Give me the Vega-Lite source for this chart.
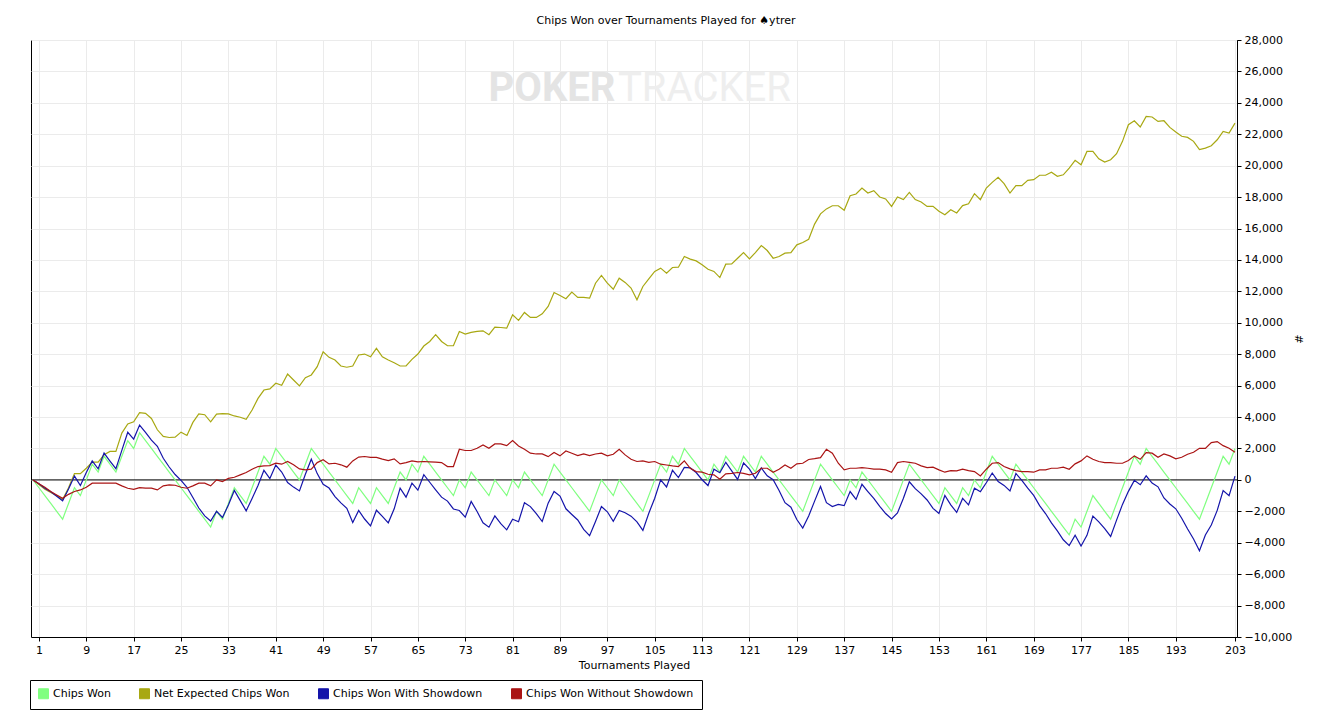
{
  "$schema": "https://vega.github.io/schema/vega-lite/v6.json",
  "width": 1206,
  "height": 597,
  "autosize": {"type": "none"},
  "padding": {"left": 31, "top": 40, "right": 94, "bottom": 91},
  "background": "white",
  "title": {"text": "Chips Won over Tournaments Played for ♠ytrer", "font": "DejaVu Sans", "fontSize": 11, "fontWeight": "normal", "color": "black", "anchor": "middle", "dx": 32, "offset": 8},
  "config": {
    "view": {"stroke": "black", "strokeWidth": 1},
    "axis": {"domainColor": "black", "tickColor": "black", "labelColor": "black", "titleColor": "black", "labelFont": "DejaVu Sans", "labelFontSize": 11, "titleFont": "DejaVu Sans", "titleFontSize": 11, "titleFontWeight": "normal", "gridColor": "#ebebeb", "gridWidth": 1, "tickSize": 4, "labelPadding": 3}
  },
  "encoding": {
    "x": {"field": "t", "type": "quantitative", "scale": {"domain": [-0.34, 203.34], "nice": false, "zero": false},
      "axis": {"values": [1,9,17,25,33,41,49,57,65,73,81,89,97,105,113,121,129,137,145,153,161,169,177,185,193,203], "title": "Tournaments Played", "titlePadding": 4, "labelFlush": false, "grid": true}},
    "y": {"field": "v", "type": "quantitative", "scale": {"domain": [-10000, 28000], "nice": false, "zero": false},
      "axis": {"orient": "right", "values": [-10000,-8000,-6000,-4000,-2000,0,2000,4000,6000,8000,10000,12000,14000,16000,18000,20000,22000,24000,26000,28000], "format": ",d", "title": "#", "titlePadding": 1, "grid": true}}
  },
  "layer": [
    {
      "data": {"values": [{"w": "POKER", "t": 87.65, "v": 24880}]},
      "mark": {"type": "text", "font": "Roboto", "fontSize": 40, "fontWeight": "bold", "fill": "#e4e4e4", "baseline": "middle"},
      "encoding": {"text": {"field": "w", "type": "nominal"}}
    },
    {
      "data": {"values": [{"w": "TRACKER", "t": 113.4, "v": 24880}]},
      "mark": {"type": "text", "font": "Roboto", "fontSize": 40, "fontWeight": "normal", "fill": "#eeeeee", "baseline": "middle"},
      "encoding": {"text": {"field": "w", "type": "nominal"}}
    },
    {
      "data": {"values": [{"t": -0.34, "v": 0, "t2": 203.34}]},
      "mark": {"type": "rule", "color": "black", "strokeWidth": 1},
      "encoding": {"x2": {"field": "t2"}}
    },
    {
      "data": {"values": [
        {"t":0,"cw":0,"nx":0,"sd":0,"ns":0},
        {"t":1,"cw":-500,"nx":-300,"sd":-250,"ns":-250},
        {"t":2,"cw":-1000,"nx":-600,"sd":-530,"ns":-470},
        {"t":3,"cw":-1500,"nx":-800,"sd":-760,"ns":-740},
        {"t":4,"cw":-2000,"nx":-1000,"sd":-1040,"ns":-960},
        {"t":5,"cw":-2500,"nx":-1250,"sd":-1330,"ns":-1170},
        {"t":6,"cw":-1500,"nx":-500,"sd":-580,"ns":-920},
        {"t":7,"cw":-500,"nx":400,"sd":240,"ns":-740},
        {"t":8,"cw":-1000,"nx":400,"sd":-360,"ns":-640},
        {"t":9,"cw":0,"nx":740,"sd":470,"ns":-470},
        {"t":10,"cw":1000,"nx":1130,"sd":1210,"ns":-210},
        {"t":11,"cw":500,"nx":1130,"sd":710,"ns":-210},
        {"t":12,"cw":1500,"nx":1600,"sd":1710,"ns":-210},
        {"t":13,"cw":1000,"nx":1810,"sd":1200,"ns":-200},
        {"t":14,"cw":500,"nx":1810,"sd":710,"ns":-210},
        {"t":15,"cw":1500,"nx":2980,"sd":1880,"ns":-380},
        {"t":16,"cw":2500,"nx":3560,"sd":3030,"ns":-530},
        {"t":17,"cw":2000,"nx":3700,"sd":2600,"ns":-600},
        {"t":18,"cw":3000,"nx":4280,"sd":3490,"ns":-490},
        {"t":19,"cw":2500,"nx":4240,"sd":3030,"ns":-530},
        {"t":20,"cw":2000,"nx":3910,"sd":2530,"ns":-530},
        {"t":21,"cw":1500,"nx":3190,"sd":2140,"ns":-640},
        {"t":22,"cw":1000,"nx":2770,"sd":1380,"ns":-380},
        {"t":23,"cw":500,"nx":2700,"sd":820,"ns":-320},
        {"t":24,"cw":0,"nx":2720,"sd":340,"ns":-340},
        {"t":25,"cw":-500,"nx":3040,"sd":-30,"ns":-470},
        {"t":26,"cw":-1000,"nx":2830,"sd":-470,"ns":-530},
        {"t":27,"cw":-1500,"nx":3660,"sd":-1120,"ns":-380},
        {"t":28,"cw":-2000,"nx":4200,"sd":-1790,"ns":-210},
        {"t":29,"cw":-2500,"nx":4150,"sd":-2290,"ns":-210},
        {"t":30,"cw":-3000,"nx":3700,"sd":-2620,"ns":-380},
        {"t":31,"cw":-2000,"nx":4190,"sd":-2000,"ns":0},
        {"t":32,"cw":-2500,"nx":4220,"sd":-2390,"ns":-110},
        {"t":33,"cw":-1500,"nx":4200,"sd":-1600,"ns":100},
        {"t":34,"cw":-500,"nx":4070,"sd":-670,"ns":170},
        {"t":35,"cw":-1000,"nx":3990,"sd":-1320,"ns":320},
        {"t":36,"cw":-1500,"nx":3860,"sd":-1970,"ns":470},
        {"t":37,"cw":-500,"nx":4450,"sd":-1180,"ns":680},
        {"t":38,"cw":500,"nx":5190,"sd":-350,"ns":850},
        {"t":39,"cw":1500,"nx":5720,"sd":610,"ns":890},
        {"t":40,"cw":1000,"nx":5790,"sd":90,"ns":910},
        {"t":41,"cw":2000,"nx":6150,"sd":940,"ns":1060},
        {"t":42,"cw":1500,"nx":6020,"sd":500,"ns":1000},
        {"t":43,"cw":1000,"nx":6740,"sd":-170,"ns":1170},
        {"t":44,"cw":500,"nx":6360,"sd":-460,"ns":960},
        {"t":45,"cw":0,"nx":5980,"sd":-700,"ns":700},
        {"t":46,"cw":1000,"nx":6510,"sd":360,"ns":640},
        {"t":47,"cw":2000,"nx":6680,"sd":1320,"ns":680},
        {"t":48,"cw":1500,"nx":7210,"sd":400,"ns":1100},
        {"t":49,"cw":1000,"nx":8160,"sd":-280,"ns":1280},
        {"t":50,"cw":500,"nx":7800,"sd":-520,"ns":1020},
        {"t":51,"cw":0,"nx":7630,"sd":-1060,"ns":1060},
        {"t":52,"cw":-500,"nx":7250,"sd":-1460,"ns":960},
        {"t":53,"cw":-1000,"nx":7170,"sd":-1810,"ns":810},
        {"t":54,"cw":-1500,"nx":7250,"sd":-2710,"ns":1210},
        {"t":55,"cw":-500,"nx":7950,"sd":-1950,"ns":1450},
        {"t":56,"cw":-1000,"nx":8010,"sd":-2490,"ns":1490},
        {"t":57,"cw":-1500,"nx":7840,"sd":-2930,"ns":1430},
        {"t":58,"cw":-500,"nx":8370,"sd":-1930,"ns":1430},
        {"t":59,"cw":-1000,"nx":7840,"sd":-2320,"ns":1320},
        {"t":60,"cw":-1500,"nx":7630,"sd":-2730,"ns":1230},
        {"t":61,"cw":-500,"nx":7460,"sd":-1840,"ns":1340},
        {"t":62,"cw":500,"nx":7250,"sd":-520,"ns":1020},
        {"t":63,"cw":0,"nx":7250,"sd":-1100,"ns":1100},
        {"t":64,"cw":1000,"nx":7670,"sd":-210,"ns":1210},
        {"t":65,"cw":500,"nx":8010,"sd":-650,"ns":1150},
        {"t":66,"cw":1500,"nx":8520,"sd":330,"ns":1170},
        {"t":67,"cw":1000,"nx":8810,"sd":-150,"ns":1150},
        {"t":68,"cw":500,"nx":9250,"sd":-630,"ns":1130},
        {"t":69,"cw":0,"nx":8810,"sd":-1100,"ns":1100},
        {"t":70,"cw":-500,"nx":8540,"sd":-1350,"ns":850},
        {"t":71,"cw":-1000,"nx":8540,"sd":-1850,"ns":850},
        {"t":72,"cw":0,"nx":9450,"sd":-1950,"ns":1950},
        {"t":73,"cw":-500,"nx":9280,"sd":-2370,"ns":1870},
        {"t":74,"cw":500,"nx":9390,"sd":-1370,"ns":1870},
        {"t":75,"cw":0,"nx":9450,"sd":-2010,"ns":2010},
        {"t":76,"cw":-500,"nx":9490,"sd":-2730,"ns":2230},
        {"t":77,"cw":-1000,"nx":9240,"sd":-3010,"ns":2010},
        {"t":78,"cw":0,"nx":9720,"sd":-2290,"ns":2290},
        {"t":79,"cw":-500,"nx":9700,"sd":-2790,"ns":2290},
        {"t":80,"cw":-1000,"nx":9660,"sd":-3180,"ns":2180},
        {"t":81,"cw":0,"nx":10510,"sd":-2500,"ns":2500},
        {"t":82,"cw":-500,"nx":10150,"sd":-2660,"ns":2160},
        {"t":83,"cw":500,"nx":10660,"sd":-1450,"ns":1950},
        {"t":84,"cw":0,"nx":10340,"sd":-1700,"ns":1700},
        {"t":85,"cw":-500,"nx":10340,"sd":-2150,"ns":1650},
        {"t":86,"cw":-1000,"nx":10570,"sd":-2650,"ns":1650},
        {"t":87,"cw":0,"nx":11040,"sd":-1480,"ns":1480},
        {"t":88,"cw":1000,"nx":11930,"sd":-740,"ns":1740},
        {"t":89,"cw":500,"nx":11740,"sd":-1030,"ns":1530},
        {"t":90,"cw":0,"nx":11530,"sd":-1840,"ns":1840},
        {"t":91,"cw":-500,"nx":11950,"sd":-2200,"ns":1700},
        {"t":92,"cw":-1000,"nx":11620,"sd":-2550,"ns":1550},
        {"t":93,"cw":-1500,"nx":11620,"sd":-3150,"ns":1650},
        {"t":94,"cw":-2000,"nx":11570,"sd":-3550,"ns":1550},
        {"t":95,"cw":-1000,"nx":12520,"sd":-2650,"ns":1650},
        {"t":96,"cw":0,"nx":13010,"sd":-1700,"ns":1700},
        {"t":97,"cw":-500,"nx":12520,"sd":-2030,"ns":1530},
        {"t":98,"cw":-1000,"nx":12140,"sd":-2630,"ns":1630},
        {"t":99,"cw":0,"nx":12840,"sd":-1950,"ns":1950},
        {"t":100,"cw":-500,"nx":12570,"sd":-2090,"ns":1590},
        {"t":101,"cw":-1000,"nx":12210,"sd":-2310,"ns":1310},
        {"t":102,"cw":-1500,"nx":11460,"sd":-2670,"ns":1170},
        {"t":103,"cw":-2000,"nx":12310,"sd":-3210,"ns":1210},
        {"t":104,"cw":-1000,"nx":12800,"sd":-2120,"ns":1120},
        {"t":105,"cw":0,"nx":13270,"sd":-1170,"ns":1170},
        {"t":106,"cw":1000,"nx":13480,"sd":0,"ns":1000},
        {"t":107,"cw":500,"nx":13160,"sd":-450,"ns":950},
        {"t":108,"cw":1500,"nx":13520,"sd":610,"ns":890},
        {"t":109,"cw":1000,"nx":13540,"sd":150,"ns":850},
        {"t":110,"cw":2000,"nx":14220,"sd":790,"ns":1210},
        {"t":111,"cw":1500,"nx":14050,"sd":760,"ns":740},
        {"t":112,"cw":1000,"nx":13940,"sd":470,"ns":530},
        {"t":113,"cw":500,"nx":13690,"sd":10,"ns":490},
        {"t":114,"cw":0,"nx":13410,"sd":-360,"ns":360},
        {"t":115,"cw":1000,"nx":13270,"sd":680,"ns":320},
        {"t":116,"cw":500,"nx":12880,"sd":460,"ns":40},
        {"t":117,"cw":1500,"nx":13730,"sd":1120,"ns":380},
        {"t":118,"cw":1000,"nx":13750,"sd":580,"ns":420},
        {"t":119,"cw":500,"nx":14110,"sd":30,"ns":470},
        {"t":120,"cw":1500,"nx":14470,"sd":1080,"ns":420},
        {"t":121,"cw":1000,"nx":14070,"sd":680,"ns":320},
        {"t":122,"cw":500,"nx":14470,"sd":80,"ns":420},
        {"t":123,"cw":1500,"nx":14920,"sd":760,"ns":740},
        {"t":124,"cw":1000,"nx":14600,"sd":260,"ns":740},
        {"t":125,"cw":500,"nx":14110,"sd":10,"ns":490},
        {"t":126,"cw":0,"nx":14220,"sd":-680,"ns":680},
        {"t":127,"cw":-500,"nx":14430,"sd":-1450,"ns":950},
        {"t":128,"cw":-1000,"nx":14470,"sd":-1740,"ns":740},
        {"t":129,"cw":-1500,"nx":14960,"sd":-2520,"ns":1020},
        {"t":130,"cw":-2000,"nx":15110,"sd":-3060,"ns":1060},
        {"t":131,"cw":-1000,"nx":15320,"sd":-2300,"ns":1300},
        {"t":132,"cw":0,"nx":16280,"sd":-1350,"ns":1350},
        {"t":133,"cw":1000,"nx":16930,"sd":-420,"ns":1420},
        {"t":134,"cw":500,"nx":17250,"sd":-1450,"ns":1950},
        {"t":135,"cw":0,"nx":17450,"sd":-1700,"ns":1700},
        {"t":136,"cw":-500,"nx":17450,"sd":-1560,"ns":1060},
        {"t":137,"cw":-1000,"nx":17160,"sd":-1640,"ns":640},
        {"t":138,"cw":0,"nx":18090,"sd":-740,"ns":740},
        {"t":139,"cw":-500,"nx":18200,"sd":-1240,"ns":740},
        {"t":140,"cw":500,"nx":18580,"sd":-280,"ns":780},
        {"t":141,"cw":0,"nx":18260,"sd":-740,"ns":740},
        {"t":142,"cw":-500,"nx":18410,"sd":-1180,"ns":680},
        {"t":143,"cw":-1000,"nx":18010,"sd":-1680,"ns":680},
        {"t":144,"cw":-1500,"nx":17880,"sd":-2140,"ns":640},
        {"t":145,"cw":-2000,"nx":17410,"sd":-2490,"ns":490},
        {"t":146,"cw":-1000,"nx":18010,"sd":-2100,"ns":1100},
        {"t":147,"cw":0,"nx":17840,"sd":-1170,"ns":1170},
        {"t":148,"cw":1000,"nx":18300,"sd":-120,"ns":1120},
        {"t":149,"cw":500,"nx":17840,"sd":-560,"ns":1060},
        {"t":150,"cw":0,"nx":17690,"sd":-890,"ns":890},
        {"t":151,"cw":-500,"nx":17410,"sd":-1280,"ns":780},
        {"t":152,"cw":-1000,"nx":17410,"sd":-1810,"ns":810},
        {"t":153,"cw":-1500,"nx":17100,"sd":-2140,"ns":640},
        {"t":154,"cw":-500,"nx":16880,"sd":-990,"ns":490},
        {"t":155,"cw":-1000,"nx":17200,"sd":-1590,"ns":590},
        {"t":156,"cw":-1500,"nx":16990,"sd":-2070,"ns":570},
        {"t":157,"cw":-500,"nx":17460,"sd":-1180,"ns":680},
        {"t":158,"cw":-1000,"nx":17580,"sd":-1590,"ns":590},
        {"t":159,"cw":0,"nx":18220,"sd":-530,"ns":530},
        {"t":160,"cw":-500,"nx":17840,"sd":-750,"ns":250},
        {"t":161,"cw":500,"nx":18580,"sd":-180,"ns":680},
        {"t":162,"cw":1500,"nx":18940,"sd":440,"ns":1060},
        {"t":163,"cw":1000,"nx":19260,"sd":-100,"ns":1100},
        {"t":164,"cw":500,"nx":18860,"sd":-350,"ns":850},
        {"t":165,"cw":0,"nx":18260,"sd":-700,"ns":700},
        {"t":166,"cw":1000,"nx":18730,"sd":410,"ns":590},
        {"t":167,"cw":500,"nx":18730,"sd":-30,"ns":530},
        {"t":168,"cw":0,"nx":19070,"sd":-530,"ns":530},
        {"t":169,"cw":-500,"nx":19110,"sd":-990,"ns":490},
        {"t":170,"cw":-1000,"nx":19390,"sd":-1640,"ns":640},
        {"t":171,"cw":-1500,"nx":19390,"sd":-2140,"ns":640},
        {"t":172,"cw":-2000,"nx":19580,"sd":-2740,"ns":740},
        {"t":173,"cw":-2500,"nx":19320,"sd":-3240,"ns":740},
        {"t":174,"cw":-3000,"nx":19420,"sd":-3810,"ns":810},
        {"t":175,"cw":-3500,"nx":19850,"sd":-4180,"ns":680},
        {"t":176,"cw":-2500,"nx":20340,"sd":-3520,"ns":1020},
        {"t":177,"cw":-3000,"nx":20060,"sd":-4210,"ns":1210},
        {"t":178,"cw":-2000,"nx":20910,"sd":-3530,"ns":1530},
        {"t":179,"cw":-1000,"nx":20910,"sd":-2310,"ns":1310},
        {"t":180,"cw":-1500,"nx":20440,"sd":-2670,"ns":1170},
        {"t":181,"cw":-2000,"nx":20230,"sd":-3100,"ns":1100},
        {"t":182,"cw":-2500,"nx":20380,"sd":-3600,"ns":1100},
        {"t":183,"cw":-1500,"nx":20760,"sd":-2560,"ns":1060},
        {"t":184,"cw":-500,"nx":21550,"sd":-1560,"ns":1060},
        {"t":185,"cw":500,"nx":22610,"sd":-730,"ns":1230},
        {"t":186,"cw":1500,"nx":22860,"sd":-30,"ns":1530},
        {"t":187,"cw":1000,"nx":22460,"sd":-310,"ns":1310},
        {"t":188,"cw":2000,"nx":23140,"sd":260,"ns":1740},
        {"t":189,"cw":1500,"nx":23100,"sd":-200,"ns":1700},
        {"t":190,"cw":1000,"nx":22820,"sd":-440,"ns":1440},
        {"t":191,"cw":500,"nx":22860,"sd":-1150,"ns":1650},
        {"t":192,"cw":0,"nx":22440,"sd":-1530,"ns":1530},
        {"t":193,"cw":-500,"nx":22140,"sd":-1840,"ns":1340},
        {"t":194,"cw":-1000,"nx":21870,"sd":-2440,"ns":1440},
        {"t":195,"cw":-1500,"nx":21800,"sd":-3130,"ns":1630},
        {"t":196,"cw":-2000,"nx":21550,"sd":-3760,"ns":1760},
        {"t":197,"cw":-2500,"nx":21020,"sd":-4510,"ns":2010},
        {"t":198,"cw":-1500,"nx":21120,"sd":-3510,"ns":2010},
        {"t":199,"cw":-500,"nx":21270,"sd":-2870,"ns":2370},
        {"t":200,"cw":500,"nx":21650,"sd":-1940,"ns":2440},
        {"t":201,"cw":1500,"nx":22180,"sd":-680,"ns":2180},
        {"t":202,"cw":1000,"nx":22080,"sd":-1010,"ns":2010},
        {"t":203,"cw":2000,"nx":22710,"sd":240,"ns":1760}
      ]},
      "transform": [{"fold": ["cw", "nx", "sd", "ns"], "as": ["k", "v"]}],
      "mark": {"type": "line", "strokeWidth": 1.2, "interpolate": "linear"},
      "encoding": {
        "color": {"field": "k", "type": "nominal",
          "scale": {"domain": ["cw", "nx", "sd", "ns"], "range": ["#80ff80", "#a8a812", "#1414aa", "#aa1414"]},
          "legend": {"title": null, "orient": "none", "legendX": -1, "legendY": 640, "direction": "horizontal", "columns": 4,
            "symbolType": "square", "symbolSize": 100, "symbolStrokeWidth": 1, "columnPadding": 26, "padding": 8,
            "strokeColor": "black", "fillColor": "white", "labelFont": "DejaVu Sans", "labelFontSize": 11, "labelColor": "black", "labelLimit": 0, "labelOffset": 4,
            "labelExpr": "datum.value == 'cw' ? 'Chips Won' : datum.value == 'nx' ? 'Net Expected Chips Won' : datum.value == 'sd' ? 'Chips Won With Showdown' : 'Chips Won Without Showdown'",
            "encode": {"symbols": {"update": {"fill": {"scale": "color", "field": "value"}, "fillOpacity": {"value": 1}, "stroke": {"value": "black"}, "strokeWidth": {"value": 1}}}}}
        }
      }
    }
  ]
}
